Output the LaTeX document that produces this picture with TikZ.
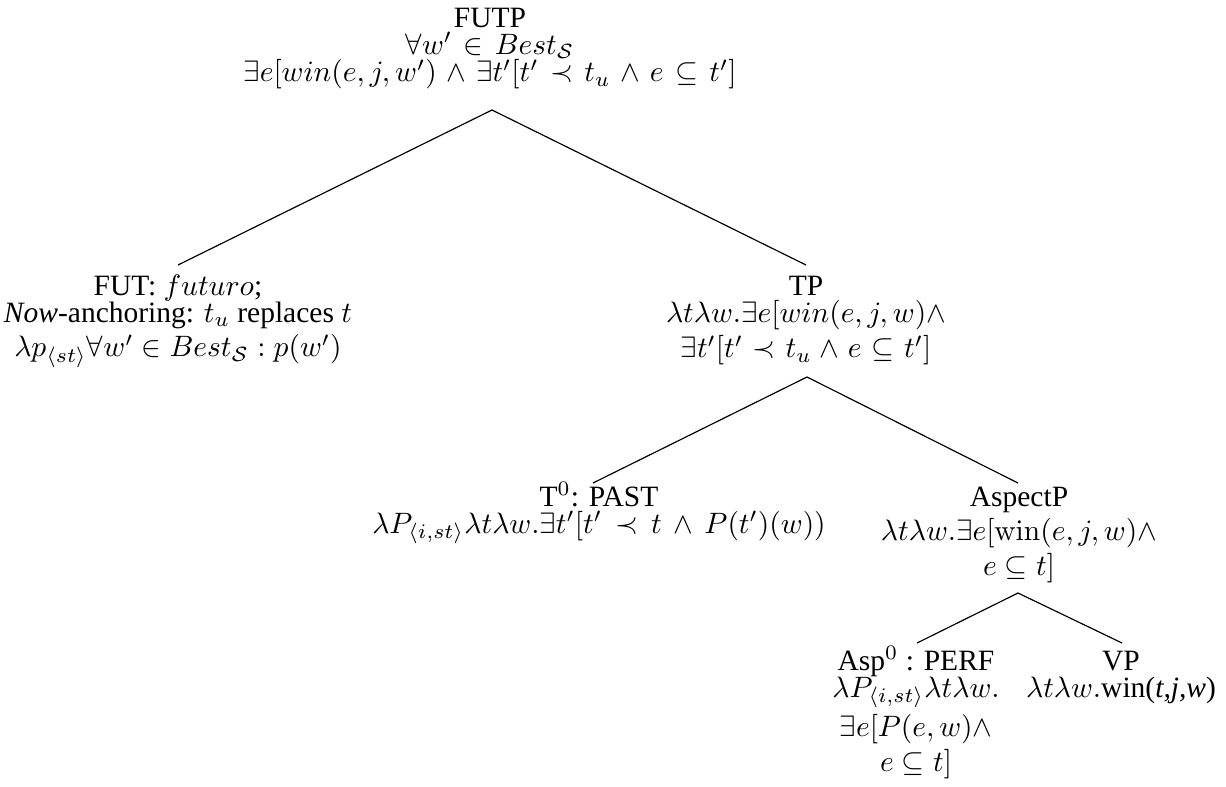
\documentclass[tikz,border=0pt]{standalone}
\usepackage[no-math]{fontspec}
\setmainfont{Liberation Serif}
\usetikzlibrary{calc}
\newdimen\pxu \pxu=0.33898pt
\tikzset{
  tn/.style={inner sep=0pt, anchor=base, text width=1000\pxu, align=flush center,
    font={\fontsize{10}{9.32}\selectfont\lineskip=2pt}},
  br/.style={line width=0.4pt}
}
\begin{document}
\begin{tikzpicture}[x=0.33898pt,y=-0.33898pt]
\useasboundingbox (0,0) rectangle (1226,786);
\node[tn] (futp) at (490,27) {FUTP\\
  $\thickmuskip=7mu \forall w' \in Best_{\mathcal{S}}$\\
  $\thickmuskip=7mu \medmuskip=6mu \exists e[win(e,j,w') \wedge \exists t'[t' \prec t_u \wedge e \subseteq t']$};
\node[tn] (fut) at (178,295) {FUT: $futuro$;\\
  \textit{Now}-anchoring: $t_u$ replaces $t$\\
  $\lambda p_{\langle st\rangle} \forall w' \in Best_{\mathcal{S}} : p(w')$};
\node[tn] (tp) at (806,295) {TP\\
  $\lambda t \lambda w.\exists e[win(e,j,w)\wedge$\\
  $\thickmuskip=6mu \medmuskip=5mu \exists t'[t' \prec t_u \wedge e \subseteq t']$};
\node[tn] (t0) at (599,506) {T$^0$: PAST\\
  $\thickmuskip=8mu \medmuskip=7mu \lambda P_{\langle i,st\rangle}\lambda t\lambda w.\exists t'[t' \prec t \wedge P(t')(w))$};
\node[tn] (aspp) at (1019,506) {AspectP\\
  $\lambda t\lambda w.\exists e[\mathrm{win}(e,j,w)\wedge$\\
  $e\subseteq t]$};
\node[tn] (asp0) at (916,670) {Asp$^0$ : PERF\\
  $\lambda P_{\langle i,st\rangle}\lambda t\lambda w.$\\
  $\exists e[P(e,w)\wedge$\\
  $e\subseteq t]$};
\node[tn] (vp) at (1121,670) {VP\\
  $\lambda t\lambda w.$win(\textit{t,j,w})};
\draw[br] ($(futp.base)+(2,83)$) -- ($(fut.base)+(0,-30)$);
\draw[br] ($(futp.base)+(2,83)$) -- ($(tp.base)+(0,-30)$);
\draw[br] ($(tp.base)+(1,82)$) -- ($(t0.base)+(-6,-23)$);
\draw[br] ($(tp.base)+(1,82)$) -- ($(aspp.base)+(-1,-23)$);
\draw[br] ($(aspp.base)+(-1,87)$) -- ($(asp0.base)+(1,-27)$);
\draw[br] ($(aspp.base)+(-1,87)$) -- ($(vp.base)+(1,-27)$);
\end{tikzpicture}
\end{document}
